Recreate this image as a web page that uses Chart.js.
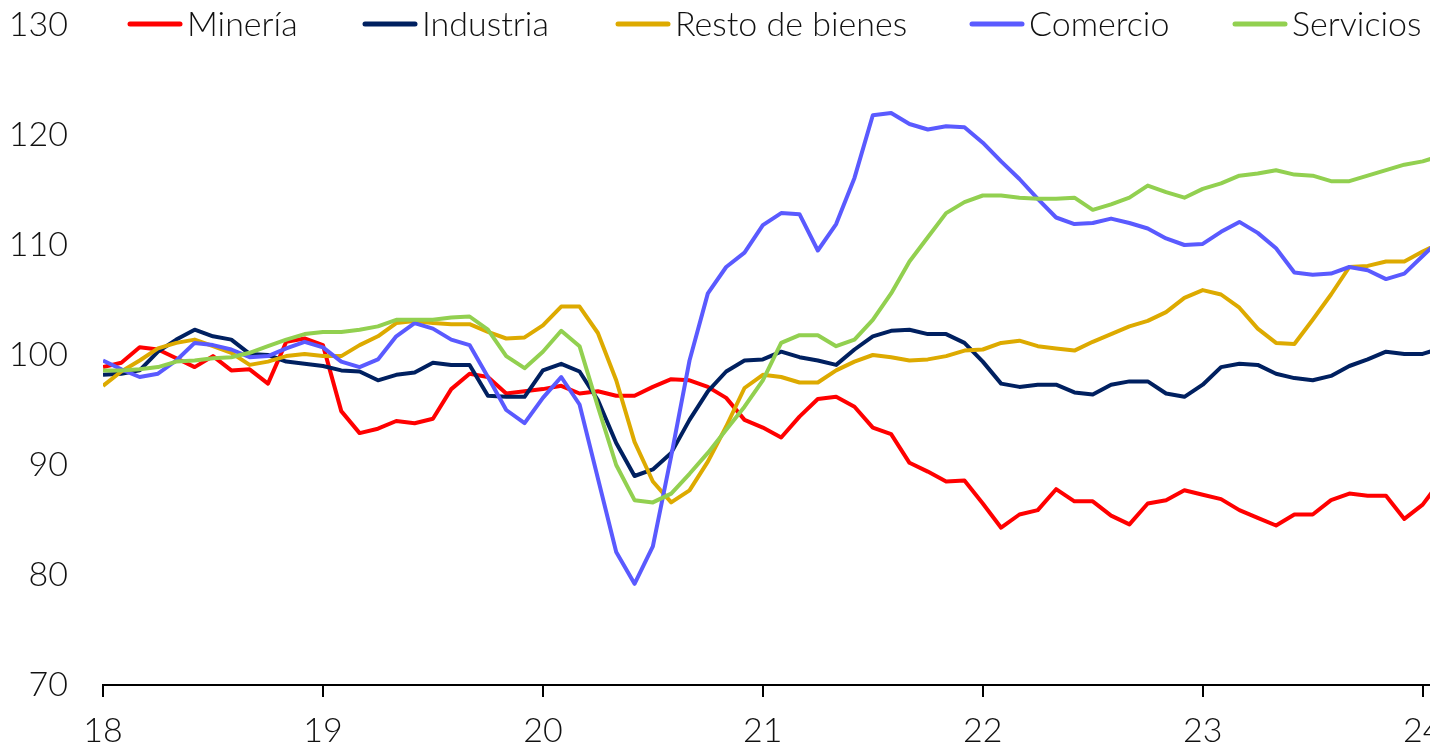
<!DOCTYPE html>
<html>
<head>
<meta charset="utf-8">
<script src="https://cdn.jsdelivr.net/npm/chart.js@4/dist/chart.umd.min.js"></script>
<style>
  html, body { margin: 0; padding: 0; background: #fff; }
  .wrap { position: relative; width: 1430px; height: 749px; }
</style>
</head>
<body>
<div class="wrap"><canvas id="chart"></canvas></div>
<script>
// monthly index, Jan 2018 .. Feb 2024
const yearLabels = ['18', '19', '20', '21', '22', '23', '24'];
const seriesNames = ['Minería', 'Industria', 'Resto de bienes', 'Comercio', 'Servicios'];

const mineria = [
  98.9, 99.3, 100.7, 100.5, 99.7, 98.9, 99.9, 98.6, 98.7, 97.4, 101.2, 101.5,
  100.9, 94.9, 92.9, 93.3, 94.0, 93.8, 94.2, 96.9, 98.3, 98.0, 96.5, 96.7,
  96.9, 97.2, 96.5, 96.7, 96.3, 96.3, 97.1, 97.8, 97.7, 97.1, 96.1, 94.1,
  93.4, 92.5, 94.4, 96.0, 96.2, 95.3, 93.4, 92.8, 90.2, 89.4, 88.5, 88.6,
  86.5, 84.3, 85.5, 85.9, 87.8, 86.7, 86.7, 85.4, 84.6, 86.5, 86.8, 87.7,
  87.3, 86.9, 85.9, 85.2, 84.5, 85.5, 85.5, 86.8, 87.4, 87.2, 87.2, 85.1,
  86.4, 88.6
];
const industria = [
  98.2, 98.3, 98.6, 100.3, 101.4, 102.3, 101.7, 101.4, 100.1, 100.0, 99.4, 99.2,
  99.0, 98.6, 98.5, 97.7, 98.2, 98.4, 99.3, 99.1, 99.1, 96.3, 96.2, 96.2,
  98.6, 99.2, 98.5, 95.9, 92.0, 89.0, 89.6, 91.1, 94.1, 96.7, 98.5, 99.5,
  99.6, 100.3, 99.8, 99.5, 99.1, 100.5, 101.7, 102.2, 102.3, 101.9, 101.9, 101.1,
  99.4, 97.4, 97.1, 97.3, 97.3, 96.6, 96.4, 97.3, 97.6, 97.6, 96.5, 96.2,
  97.3, 98.9, 99.2, 99.1, 98.3, 97.9, 97.7, 98.1, 99.0, 99.6, 100.3, 100.1,
  100.1, 100.6
];
const restoBienes = [
  97.2, 98.5, 99.5, 100.6, 101.1, 101.4, 100.8, 100.2, 99.1, 99.4, 99.9, 100.1,
  99.9, 99.9, 100.9, 101.7, 102.9, 103.1, 102.9, 102.8, 102.8, 102.1, 101.5, 101.6,
  102.7, 104.4, 104.4, 102.0, 97.7, 92.1, 88.5, 86.6, 87.7, 90.3, 93.5, 97.0,
  98.2, 98.0, 97.5, 97.5, 98.6, 99.4, 100.0, 99.8, 99.5, 99.6, 99.9, 100.4,
  100.5, 101.1, 101.3, 100.8, 100.6, 100.4, 101.2, 101.9, 102.6, 103.1, 103.9, 105.2,
  105.9, 105.5, 104.3, 102.4, 101.1, 101.0, 103.2, 105.5, 108.0, 108.1, 108.5, 108.5,
  109.4, 110.2
];
const comercio = [
  99.5, 98.7, 98.0, 98.3, 99.5, 101.1, 100.9, 100.5, 99.8, 99.9, 100.6, 101.2,
  100.7, 99.4, 98.9, 99.6, 101.7, 102.9, 102.4, 101.4, 100.9, 98.0, 95.0, 93.8,
  96.1, 98.0, 95.5, 88.8, 82.1, 79.2, 82.6, 90.8, 99.5, 105.6, 108.0, 109.3,
  111.8, 112.9, 112.8, 109.5, 111.9, 116.1, 121.8, 122.0, 121.0, 120.5, 120.8, 120.7,
  119.3, 117.6, 116.0, 114.2, 112.5, 111.9, 112.0, 112.4, 112.0, 111.5, 110.6, 110.0,
  110.1, 111.2, 112.1, 111.1, 109.7, 107.5, 107.3, 107.4, 108.0, 107.7, 106.9, 107.4,
  109.0, 110.6
];
const servicios = [
  98.6, 98.6, 98.7, 98.9, 99.4, 99.5, 99.7, 99.8, 100.2, 100.8, 101.4, 101.9,
  102.1, 102.1, 102.3, 102.6, 103.2, 103.2, 103.2, 103.4, 103.5, 102.3, 99.9, 98.8,
  100.3, 102.2, 100.8, 95.3, 90.0, 86.8, 86.6, 87.4, 89.2, 91.1, 93.2, 95.3,
  97.7, 101.1, 101.8, 101.8, 100.8, 101.4, 103.2, 105.6, 108.5, 110.7, 112.9, 113.9,
  114.5, 114.5, 114.3, 114.2, 114.2, 114.3, 113.2, 113.7, 114.3, 115.4, 114.8, 114.3,
  115.1, 115.6, 116.3, 116.5, 116.8, 116.4, 116.3, 115.8, 115.8, 116.3, 116.8, 117.3,
  117.6, 118.1
];

const seriesValues = [mineria, industria, restoBienes, comercio, servicios];
const seriesColors = ['#FF0000', '#002060', '#DDAA00', '#5A5AFF', '#92D050'];

const FONT = 'Lato, "Open Sans", sans-serif';
const TEXT_COLOR = '#111';

// legend drawn along the top, over the plot like the original
const legendX = [128, 363, 616, 970, 1233];
const topLegend = {
  id: 'topLegend',
  afterDraw(chart) {
    const ctx = chart.ctx;
    ctx.save();
    ctx.font = '300 34px ' + FONT;
    ctx.textBaseline = 'middle';
    ctx.lineCap = 'round';
    ctx.lineWidth = 5;
    chart.data.datasets.forEach((ds, k) => {
      const x0 = legendX[k];
      ctx.strokeStyle = ds.borderColor;
      ctx.beginPath();
      ctx.moveTo(x0 + 2, 24);
      ctx.lineTo(x0 + 52, 24);
      ctx.stroke();
      ctx.fillStyle = TEXT_COLOR;
      ctx.fillText(ds.label, x0 + 59, 25);
    });
    ctx.restore();
  }
};

const datasets = seriesNames.map((name, k) => ({
  label: name,
  data: seriesValues[k].map((v, i) => ({x: i, y: v})),
  borderColor: seriesColors[k],
  backgroundColor: seriesColors[k],
  borderWidth: 4,
  borderJoinStyle: 'round',
  pointRadius: 0,
  tension: 0,
  order: seriesNames.length - k // last series on top
}));

new Chart(document.getElementById('chart'), {
  type: 'line',
  data: {datasets},
  options: {
    responsive: true,
    maintainAspectRatio: false,
    animation: false,
    layout: {padding: {top: 25, left: 0, right: 0, bottom: 0}},
    plugins: {
      legend: {display: false},
      tooltip: {enabled: false}
    },
    scales: {
      x: {
        type: 'linear',
        min: 0,
        max: 72.4,
        afterBuildTicks: s => { s.ticks = yearLabels.map((_, k) => ({value: k * 12})); },
        afterFit: s => { s.height = 64; s.paddingLeft = 0; s.paddingRight = 0; },
        ticks: {
          callback: (value, index) => yearLabels[index],
          font: {family: FONT, size: 34, weight: 300},
          color: TEXT_COLOR,
          padding: 14,
          maxRotation: 0,
          autoSkip: false
        },
        grid: {display: true, drawOnChartArea: false, drawTicks: true, tickLength: 12, color: '#000', lineWidth: 2},
        border: {display: true, color: '#000', width: 2}
      },
      y: {
        min: 70,
        max: 130,
        afterFit: s => { s.width = 103; s.paddingTop = 0; s.paddingBottom = 0; },
        ticks: {
          stepSize: 10,
          font: {family: FONT, size: 34, weight: 300},
          color: TEXT_COLOR,
          padding: 35
        },
        grid: {display: false, drawTicks: false},
        border: {display: false}
      }
    }
  },
  plugins: [topLegend]
});
</script>
</body>
</html>
